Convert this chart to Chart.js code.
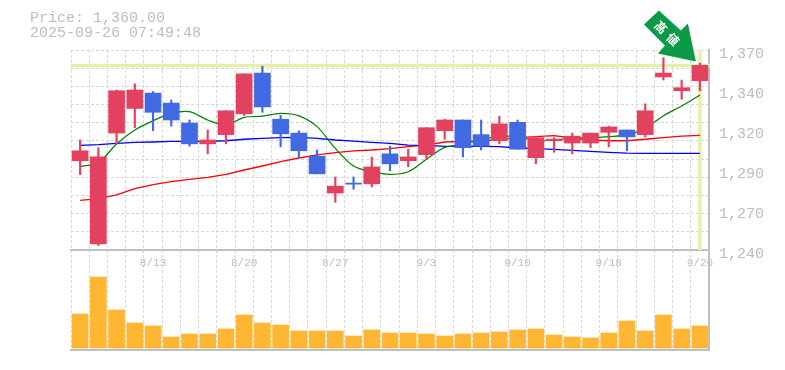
<!DOCTYPE html>
<html>
<head>
<meta charset="utf-8">
<title>Price chart</title>
<script src="https://cdn.jsdelivr.net/npm/chart.js"></script>
<style>
  html, body { margin: 0; padding: 0; background: #fff; }
  canvas { display: block; }
</style>
</head>
<body>
<canvas id="priceChart" width="785" height="370"></canvas>
<script>
const titleLines = ['Price: 1,360.00', '2025-09-26 07:49:48'];
const badgeText = ['高', '値'];
const currentPrice = 1360;

const dates = ['8/6','8/7','8/8','8/12','8/13','8/14','8/15','8/18','8/19','8/20','8/21','8/22','8/25','8/26','8/27','8/28','8/29','9/1','9/2','9/3','9/4','9/5','9/8','9/9','9/10','9/11','9/12','9/16','9/17','9/18','9/19','9/22','9/24','9/25','9/26'];
const shownDates = ['8/13','8/20','8/27','9/3','9/10','9/18','9/26'];
const priceTicks = [1370, 1344, 1318, 1292, 1266, 1240];

const opens  = [1298,1244,1316,1332,1342,1335.5,1322.5,1309,1315,1328.5,1355,1325,1316,1301,1277,1283.5,1283,1302.5,1298,1302,1317.5,1324.5,1315,1311,1323,1300,1311,1309.5,1309.5,1316.5,1318,1315,1352.5,1343.5,1350];
const closes = [1304.5,1300.5,1343.5,1344,1329.5,1324.5,1309,1311.5,1330.5,1354.5,1333,1315.5,1304.5,1289.5,1281.5,1282.8,1294,1296,1300.5,1319.5,1324.5,1306.5,1307.5,1322,1305.5,1313,1312,1314,1316,1320,1313.5,1330.5,1355,1345.5,1360];
const highs  = [1311.5,1306.5,1344,1348,1343,1337.5,1324.5,1318,1330.5,1354.5,1359.5,1327.5,1317.5,1305,1287.5,1287.5,1300.5,1307.5,1305.5,1319.5,1325,1324.5,1324.5,1327,1324.5,1314,1313,1316,1316,1320.5,1318,1335,1365,1350.5,1361.5];
const lows   = [1289,1243,1309,1319.5,1317.5,1320.5,1307.5,1302.5,1309,1327.5,1329.5,1307,1300,1289.5,1271,1279.5,1281,1291.5,1294,1299,1312,1300.5,1305,1309,1305.5,1296,1303.5,1302.5,1306.5,1307,1304.5,1313.5,1350.5,1338,1343.5];

const maShort = [1294.2,1296.8,1308.9,1318,1324,1328.8,1329.9,1324.5,1321.3,1326.2,1327,1328.8,1327.2,1320.2,1306,1294.6,1290.9,1289.2,1290.9,1299,1306.7,1308.7,1312,1313.7,1313.7,1311,1311.5,1312.8,1313,1313.7,1314.8,1319,1327.3,1333.6,1340.8];
const maMid   = [1308,1308.5,1309.3,1310,1310.2,1310.6,1310.6,1310.6,1311,1312,1312.6,1313,1313.2,1312.6,1311.5,1310.8,1310,1309.3,1308.2,1308,1307.4,1307.4,1307.4,1307.2,1306.3,1305.9,1305.4,1304.8,1304.1,1303.5,1303,1302.8,1302.8,1302.8,1302.8];
const maLong  = [1272.3,1273.4,1275.8,1279.9,1282.5,1284.4,1285.9,1287.2,1289.2,1292,1294.6,1297.4,1299.8,1301.8,1303.3,1304.4,1305,1305.9,1307.2,1308.2,1310.2,1310.6,1311,1311.7,1313,1313.7,1314.3,1312.8,1311.5,1311,1311,1312,1313,1314,1314.5];

const volumes = [3400,7100,3800,2500,2200,1100,1400,1400,1900,3300,2500,2300,1700,1700,1700,1200,1800,1500,1500,1400,1200,1400,1500,1600,1800,1900,1300,1100,1000,1500,2700,1700,3300,1900,2200];

const RED = '#e2425f';
const BLUE = '#4169e1';
const GREY = '#c0c0c0';
const GRID = '#d8d8d8';
const candleColors = opens.map((o, i) => closes[i] >= o ? RED : BLUE);

// pale line at the current price, and the vertical one at the last candle
const priceMarker = {
  id: 'priceMarker',
  beforeDatasetsDraw(chart) {
    const { ctx, chartArea, scales } = chart;
    const y = scales.y.getPixelForValue(currentPrice);
    const x = scales.x.getPixelForValue(dates.length - 1);
    ctx.save();
    ctx.strokeStyle = '#e3f2a6';
    ctx.lineWidth = 3.5;
    ctx.beginPath();
    ctx.moveTo(chartArea.left, y);
    ctx.lineTo(chartArea.right + 1, y);
    ctx.moveTo(x, chartArea.top);
    ctx.lineTo(x, scales.y.getPixelForValue(1240));
    ctx.stroke();
    ctx.restore();
  }
};

// green arrow that points at the last candle
const arrowBadge = {
  id: 'arrowBadge',
  afterDatasetsDraw(chart) {
    const { ctx, scales } = chart;
    const tipX = scales.x.getPixelForValue(dates.length - 1) - 4;
    const tipY = scales.y.getPixelForValue(currentPrice) - 4;
    const shape = [[-37, -51], [-15, -31], [-8, -38], [0, 0], [-38, -8], [-31, -16], [-52, -37]];
    ctx.save();
    ctx.fillStyle = '#0a9a48';
    ctx.beginPath();
    shape.forEach(([dx, dy], i) => {
      if (i === 0) ctx.moveTo(tipX + dx, tipY + dy);
      else ctx.lineTo(tipX + dx, tipY + dy);
    });
    ctx.closePath();
    ctx.fill();
    ctx.fillStyle = '#fff';
    ctx.font = 'bold 12px "Noto Sans CJK JP"';
    ctx.textAlign = 'center';
    ctx.textBaseline = 'middle';
    [[-35, -34], [-23, -22]].forEach(([dx, dy], i) => {
      ctx.save();
      ctx.translate(tipX + dx, tipY + dy);
      ctx.rotate(Math.PI / 4);
      ctx.fillText(badgeText[i], 0, 0);
      ctx.restore();
    });
    ctx.restore();
  }
};

new Chart(document.getElementById('priceChart').getContext('2d'), {
  data: {
    labels: dates,
    datasets: [
      { type: 'bar', data: opens.map((o, i) => [o, closes[i]]), backgroundColor: candleColors, barThickness: 16, grouped: false, order: 1, yAxisID: 'y' },
      { type: 'bar', data: lows.map((l, i) => [l, highs[i]]), backgroundColor: candleColors, barThickness: 1.5, grouped: false, order: 2, yAxisID: 'y' },
      { type: 'line', data: maShort, borderColor: '#008000', borderWidth: 1.2, pointRadius: 0, tension: 0.3, order: 3, yAxisID: 'y' },
      { type: 'line', data: maMid, borderColor: '#0000ff', borderWidth: 1.3, pointRadius: 0, order: 4, yAxisID: 'y' },
      { type: 'line', data: maLong, borderColor: '#ff0000', borderWidth: 1.3, pointRadius: 0, order: 5, yAxisID: 'y' },
      { type: 'bar', data: volumes, backgroundColor: '#ffb733', barThickness: 16, grouped: false, order: 6, yAxisID: 'yVol' }
    ]
  },
  options: {
    responsive: false,
    animation: false,
    layout: { padding: { left: 30, top: 0, right: 0, bottom: 0 } },
    plugins: {
      legend: { display: false },
      tooltip: { enabled: false },
      title: {
        display: true,
        text: titleLines,
        align: 'start',
        color: '#bdbdbd',
        font: { family: '"Liberation Mono"', size: 15, weight: 'normal', lineHeight: 1 },
        padding: { top: 11, bottom: 9 }
      }
    },
    scales: {
      x: {
        position: { y: 1240 },
        offset: true,
        grid: { color: GRID, drawTicks: false, offset: true },
        border: { color: GREY, width: 2, dash: [3, 2] },
        ticks: {
          color: '#bdbdbd',
          font: { family: '"Liberation Mono"', size: 11 },
          autoSkip: false,
          maxRotation: 0,
          padding: 6,
          callback(v) { const d = this.getLabelForValue(v); return shownDates.includes(d) ? d : ''; }
        }
      },
      xBase: {
        type: 'linear', axis: 'x', position: 'bottom', min: 0, max: 1,
        ticks: { display: false },
        grid: { display: false },
        border: { color: GREY, width: 2 },
        afterFit(s) { s.height = 20; }
      },
      y: {
        position: 'right',
        min: 1175,
        max: 1370,
        grid: { display: false },
        border: { color: GREY, width: 2 },
        afterBuildTicks(s) { s.ticks = priceTicks.map(value => ({ value })); },
        afterFit(s) { s.width = 76; },
        ticks: {
          color: '#bdbdbd',
          font: { family: '"Liberation Mono"', size: 15 },
          padding: 2,
          labelOffset: 4,
          autoSkip: false,
          callback(v) { return (Math.round(v / 10) * 10).toLocaleString('en-US'); }
        }
      },
      yVol: {
        display: false,
        min: -200,
        max: 29800
      },
      yGrid: {
        position: 'left',
        reverse: true,
        min: 0,
        max: 16.5,
        border: { display: false, dash: [3, 2] },
        grid: { drawTicks: false, color: GRID },
        ticks: { display: false },
        afterBuildTicks(s) { s.ticks = Array.from({ length: 11 }, (_, i) => ({ value: i })); },
        afterFit(s) { s.width = 41; }
      }
    }
  },
  plugins: [priceMarker, arrowBadge]
});
</script>
</body>
</html>
